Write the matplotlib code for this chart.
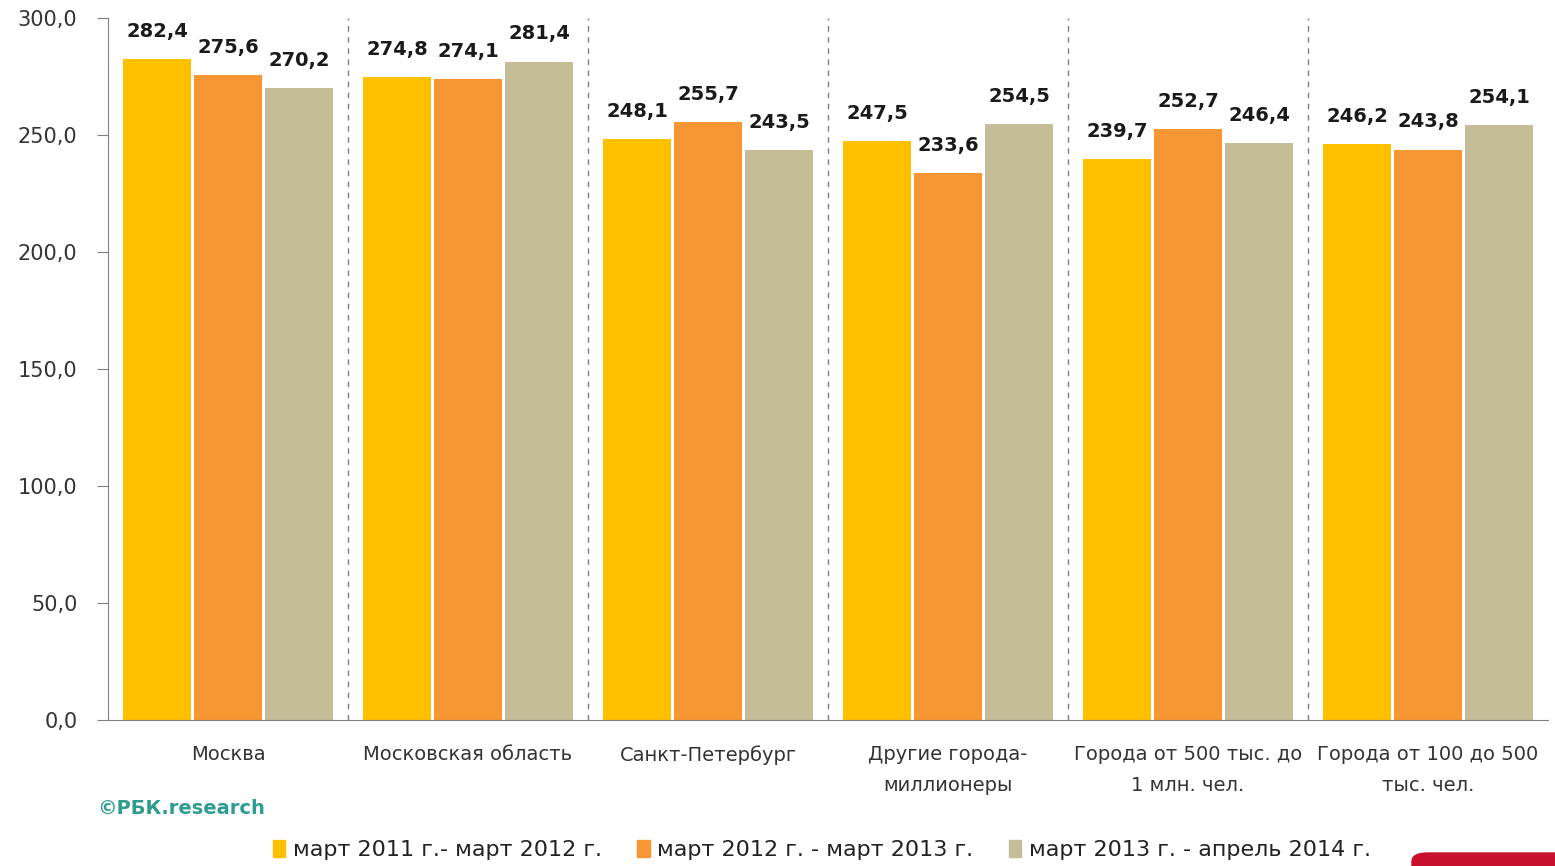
import numpy as np
import matplotlib.pyplot as plt
from matplotlib.patches import FancyBboxPatch, Patch

categories = ['Москва', 'Московская область', 'Санкт-Петербург',
              'Другие города-\nмиллионеры', 'Города от 500 тыс. до\n1 млн. чел.',
              'Города от 100 до 500\nтыс. чел.']
series_names = ['март 2011 г.- март 2012 г.', 'март 2012 г. - март 2013 г.',
                'март 2013 г. - апрель 2014 г.']
s2011 = [282.4, 274.8, 248.1, 247.5, 239.7, 246.2]
s2012 = [275.6, 274.1, 255.7, 233.6, 252.7, 243.8]
s2013 = [270.2, 281.4, 243.5, 254.5, 246.4, 254.1]
colors = ['#FFC000', '#F79633', '#C4BD97']

plt.rcParams['font.family'] = ['DejaVu Sans']

fig = plt.figure(figsize=(15.55, 8.66), dpi=100)
ax = fig.add_axes([108/1555, 1 - 720/866, 1440/1555, 702/866])

x = np.arange(len(categories))
width = 0.28
offsets = [-0.296, 0, 0.296]
for vals, off, c in zip([s2011, s2012, s2013], offsets, colors):
    bars = ax.bar(x + off, vals, width, color=c, zorder=2)
    for b, v in zip(bars, vals):
        ax.annotate(f'{v:.1f}'.replace('.', ','), (b.get_x() + b.get_width() / 2, v),
                    xytext=(0, 13), textcoords='offset points', ha='center', va='bottom',
                    fontsize=14, fontweight='bold', color='#1a1a1a')

ax.set_xlim(-0.5, len(categories) - 0.5)
ax.set_ylim(0, 300)
ax.set_yticks(np.arange(0, 301, 50))
ax.set_yticklabels([f'{t:.1f}'.replace('.', ',') for t in np.arange(0, 301, 50)],
                   fontsize=15, color='#333333')
ax.tick_params(axis='y', length=8, color='#808080', pad=14)
ax.set_xticks(x)
ax.set_xticklabels(categories, fontsize=14, color='#333333', linespacing=1.8)
ax.tick_params(axis='x', length=0, pad=18)

for sep in x[:-1] + 0.5:
    ax.axvline(sep, color='#808080', lw=1, ls=(0, (4, 4)), zorder=1)

for s in ['top', 'right']:
    ax.spines[s].set_visible(False)
ax.spines['left'].set_color('#808080')
ax.spines['bottom'].set_color('#808080')

fig.text(97/1555, 1 - 808/866, '©РБК.research', fontsize=14, fontweight='bold',
         color='#2E9C8F', va='center')

handles = [Patch(color=c) for c in colors]
fig.legend(handles, series_names, loc='center', bbox_to_anchor=(822/1555, 1 - 850/866),
           ncol=3, frameon=False, fontsize=16, handlelength=0.55, handleheight=0.8,
           handletextpad=0.35, columnspacing=1.6, labelcolor='#222222')

fig.patches.append(FancyBboxPatch((1412/1555, -0.02), 0.2, 0.035,
                                  boxstyle='round,pad=0,rounding_size=0.01',
                                  transform=fig.transFigure, color='#C8102E'))

fig.savefig('out.png', dpi=100)
